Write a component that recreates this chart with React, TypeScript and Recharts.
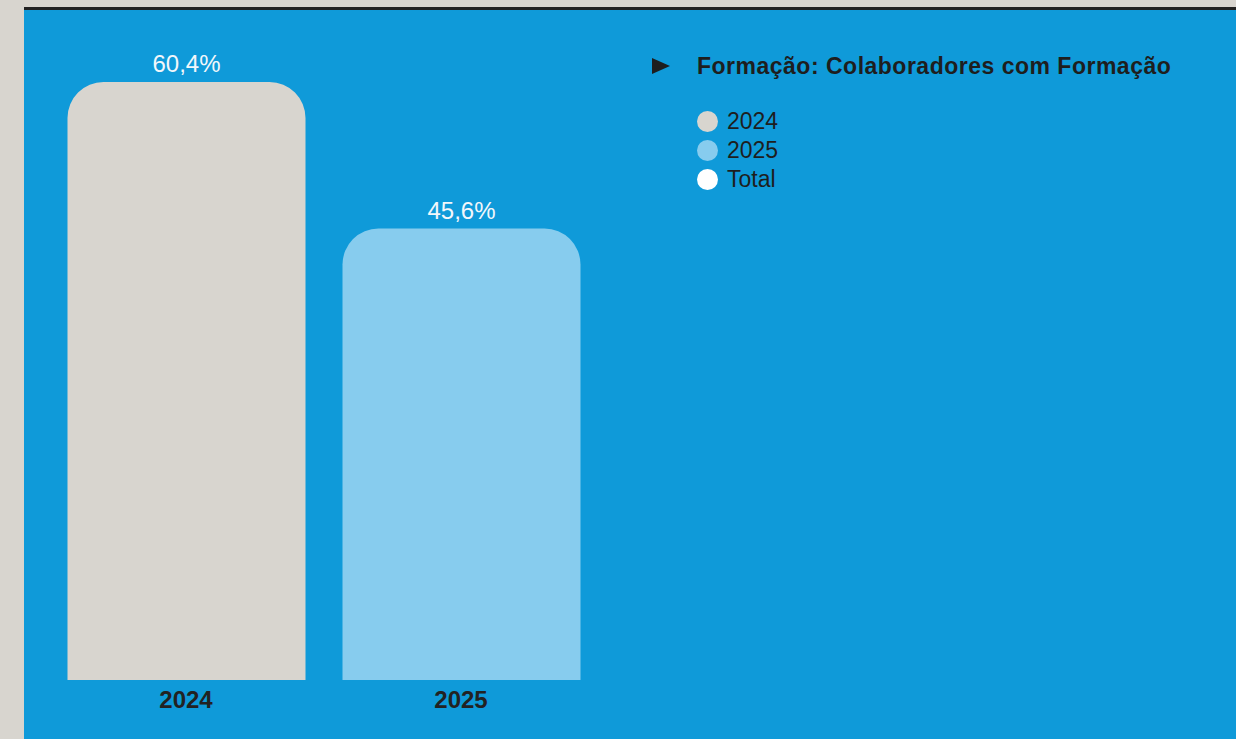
import { BarChart, Bar, XAxis, YAxis, Cell, LabelList } from "recharts";

const years = ["2024", "2025"];
const formacao = [60.4, 45.6];
const barColors = ["#d8d5cf", "#87ccee"];
const legendLabels = ["2024", "2025", "Total"];
const legendColors = ["#d8d5cf", "#87ccee", "#ffffff"];
const chartTitle = "Formação: Colaboradores com Formação";

const data = years.map((ano, i) => ({ ano, valor: formacao[i] }));

const FONT = "'Liberation Sans', Arial, Helvetica, sans-serif";

function YearTick({ x, y, payload }: any) {
  return (
    <text x={x} y={y + 26} textAnchor="middle" fill="#222" fontSize={24} fontWeight={700} fontFamily={FONT}>
      {payload.value}
    </text>
  );
}

function LegendBox() {
  return (
    <div style={{ fontFamily: FONT, color: "#1e1e1e" }}>
      <div style={{ display: "flex", alignItems: "center", height: 32 }}>
        <svg width={18} height={16} style={{ marginRight: 27, marginLeft: 2 }}>
          <polygon points="0,0 18,8 0,16" fill="#1e1e1e" />
        </svg>
        <span style={{ fontSize: 23, fontWeight: 700, letterSpacing: 0.5 }}>{chartTitle}</span>
      </div>
      <div style={{ marginTop: 25, marginLeft: 47 }}>
        {legendLabels.map((l, i) => (
          <div key={l} style={{ display: "flex", alignItems: "center", height: 29 }}>
            <span
              style={{
                width: 21,
                height: 21,
                borderRadius: 11,
                background: legendColors[i],
                display: "inline-block",
                marginRight: 9,
              }}
            />
            <span style={{ fontSize: 23 }}>{l}</span>
          </div>
        ))}
      </div>
    </div>
  );
}

export default function App() {
  return (
    <div style={{ position: "absolute", left: 0, top: 0, width: 1236, height: 739, background: "#d8d5cf", overflow: "hidden" }}>
      <div
        style={{
          position: "absolute",
          left: 24,
          top: 7,
          width: 1212,
          height: 732,
          background: "#0f9ad9",
          borderTop: "3px solid #222",
          boxSizing: "border-box",
        }}
      />
      <div style={{ position: "absolute", left: 0, top: 0 }}>
        <BarChart
          width={1236}
          height={739}
          data={data}
          margin={{ top: 36.5, right: 637.5, bottom: 19, left: 48.5 }}
          barSize={238}
        >
          <XAxis dataKey="ano" axisLine={false} tickLine={false} tickSize={0} height={40} tick={<YearTick />} />
          <YAxis hide domain={[0, 65]} />
          <Bar dataKey="valor" radius={[36, 36, 0, 0]} isAnimationActive={false}>
            {data.map((d, i) => (
              <Cell key={d.ano} fill={barColors[i]} />
            ))}
            <LabelList
              dataKey="valor"
              position="top"
              offset={10}
              fill="#f2f7fb"
              fontSize={24}
              fontFamily={FONT}
              formatter={(v: any) => Number(v).toFixed(1).replace(".", ",") + "%"}
            />
          </Bar>
        </BarChart>
      </div>
      <div style={{ position: "absolute", left: 650, top: 50, width: 570 }}>
        <LegendBox />
      </div>
    </div>
  );
}
